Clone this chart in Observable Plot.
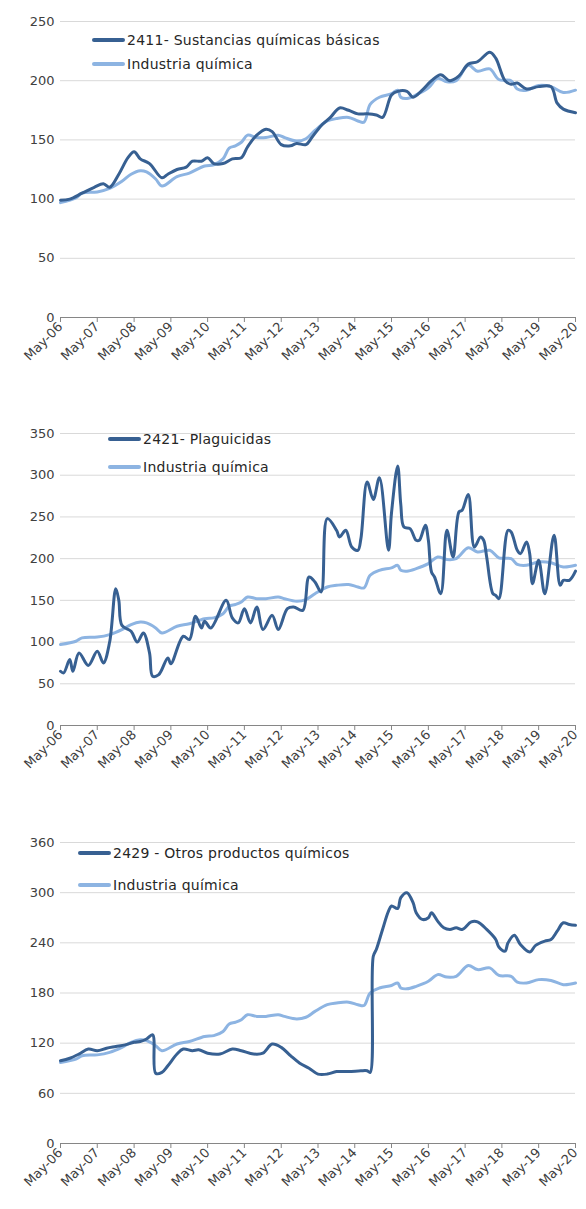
<!DOCTYPE html>
<html><head><meta charset="utf-8">
<script src="https://cdn.jsdelivr.net/npm/d3@7"></script>
<script src="https://cdn.jsdelivr.net/npm/@observablehq/plot@0.6"></script>
<style>
body{margin:0;background:#fff;font-family:"DejaVu Sans",sans-serif;}
.chart{position:relative;width:586px;}
.chart svg{display:block;}
.legend{position:absolute;font-size:14px;letter-spacing:0.25px;color:#262626;display:flex;align-items:center;white-space:nowrap;height:18px;}
.sw{display:inline-block;width:33px;height:4px;border-radius:2px;margin-right:2px;}
</style></head><body><div id="root"></div>
<script>
// Industria química (same reference series in all three panels)
const industria = [
["2006-05",97],["2006-10",101],["2006-12",105],["2007-05",106],["2007-09",109],["2008-01",115],
["2008-04",121],["2008-07",124],["2008-09",123],["2008-12",117],["2009-02",111],["2009-07",119],
["2009-11",122],["2010-04",128],["2010-07",129],["2010-10",134],["2010-12",143],["2011-02",145],
["2011-04",148],["2011-06",154],["2011-09",152],["2011-12",152],["2012-04",154],["2012-06",152],
["2012-10",149],["2013-01",151],["2013-04",158],["2013-08",166],["2013-11",168],["2014-03",169],
["2014-06",166],["2014-08",165],["2014-10",180],["2015-01",186],["2015-05",189],["2015-07",192],
["2015-08",186],["2015-10",185],["2016-01",188],["2016-05",194],["2016-08",202],["2016-11",199],
["2017-02",200],["2017-06",213],["2017-09",208],["2018-01",210],["2018-04",201],["2018-08",200],
["2018-10",193],["2019-01",192],["2019-05",196],["2019-09",195],["2020-01",190],["2020-05",192]
];
// 2411- Sustancias químicas básicas
const sustancias = [
["2006-05",99],["2006-08",100],["2006-12",105],["2007-04",110],["2007-07",113],["2007-09",110],
["2007-12",121],["2008-03",135],["2008-05",140],["2008-07",134],["2008-10",130],["2009-02",118],
["2009-04",121],["2009-07",125],["2009-10",127],["2009-12",132],["2010-03",132],["2010-05",135],
["2010-07",130],["2010-10",130],["2011-01",134],["2011-04",135],["2011-06",144],["2011-09",154],
["2011-12",159],["2012-02",157],["2012-05",146],["2012-08",145],["2012-10",147],["2013-01",146],
["2013-03",152],["2013-06",162],["2013-09",169],["2013-12",177],["2014-03",175],["2014-06",172],
["2014-09",172],["2014-12",171],["2015-02",169],["2015-05",188],["2015-07",191],["2015-10",191],
["2015-12",186],["2016-03",192],["2016-06",200],["2016-09",205],["2016-12",200],["2017-03",204],
["2017-06",214],["2017-09",216],["2018-01",224],["2018-03",219],["2018-06",200],["2018-08",197],
["2018-10",198],["2019-01",193],["2019-05",195],["2019-09",195],["2019-11",181],["2020-01",176],
["2020-05",173]
];
// 2421- Plaguicidas
const plaguicidas = [
["2006-05",65],["2006-06",63],["2006-08",79],["2006-09",65],["2006-11",87],["2007-02",72],
["2007-05",89],["2007-07",75],["2007-09",100],["2007-11",164],["2007-12",150],["2008-01",120],
["2008-04",113],["2008-06",100],["2008-08",111],["2008-10",87],["2008-11",59],["2009-01",61],
["2009-04",81],["2009-05",74],["2009-09",107],["2009-11",103],["2010-01",131],["2010-03",117],
["2010-04",125],["2010-06",117],["2010-11",150],["2011-01",129],["2011-03",123],["2011-05",140],
["2011-07",123],["2011-09",142],["2011-11",115],["2012-02",132],["2012-04",115],["2012-07",140],
["2012-09",142],["2012-12",138],["2013-02",178],["2013-04",172],["2013-06",160],["2013-08",248],
["2013-11",234],["2013-12",226],["2014-02",234],["2014-04",214],["2014-06",210],["2014-07",224],
["2014-09",292],["2014-11",271],["2015-01",297],["2015-04",210],["2015-05",255],["2015-07",311],
["2015-08",265],["2015-09",238],["2015-11",236],["2016-01",222],["2016-02",222],["2016-04",240],
["2016-05",222],["2016-06",184],["2016-07",178],["2016-09",158],["2016-11",234],["2017-01",202],
["2017-03",256],["2017-04",258],["2017-06",277],["2017-08",214],["2017-10",226],["2017-11",222],
["2017-12",202],["2018-02",158],["2018-03",156],["2018-04",152],["2018-07",234],["2018-08",232],
["2018-10",210],["2018-11",206],["2019-01",220],["2019-02",206],["2019-03",170],["2019-05",198],
["2019-07",158],["2019-10",228],["2019-12",168],["2020-01",174],["2020-03",174],["2020-05",185]
];
// 2429 - Otros productos químicos
const otros = [
["2006-05",99],["2006-08",102],["2006-11",107],["2007-02",113],["2007-05",111],["2007-08",114],
["2007-11",116],["2008-02",118],["2008-05",121],["2008-07",122],["2008-09",125],["2008-11",130],
["2008-12",84],["2009-02",85],["2009-04",93],["2009-07",107],["2009-09",113],["2009-12",111],
["2010-02",112],["2010-05",108],["2010-09",107],["2011-01",113],["2011-04",111],["2011-08",107],
["2011-11",108],["2012-02",119],["2012-05",115],["2012-08",105],["2012-11",96],["2013-02",90],
["2013-05",83],["2013-08",83],["2013-11",86],["2014-03",86],["2014-07",87],["2014-09",87],
["2014-10",85],["2014-11",224],["2014-12",232],["2015-02",256],["2015-04",278],["2015-05",284],
["2015-07",281],["2015-08",294],["2015-10",300],["2015-12",288],["2016-01",276],["2016-03",268],
["2016-05",270],["2016-06",276],["2016-08",266],["2016-10",258],["2016-12",256],["2017-02",258],
["2017-04",256],["2017-07",265],["2017-09",265],["2017-12",256],["2018-03",244],["2018-04",235],
["2018-06",230],["2018-07",240],["2018-09",249],["2018-11",238],["2019-02",229],["2019-04",237],
["2019-07",242],["2019-09",244],["2019-11",254],["2020-01",264],["2020-03",262],["2020-05",261]
];

const tickMonths = ["2006-05","2007-05","2008-05","2009-05","2010-05","2011-05","2012-05","2013-05",
  "2014-05","2015-05","2016-05","2017-05","2018-05","2019-05","2020-05"];
const yTicks1 = [0,50,100,150,200,250];
const yTicks2 = [0,50,100,150,200,250,300,350];
const yTicks3 = [0,60,120,180,240,300,360];

const names = ["2411- Sustancias químicas básicas","2421- Plaguicidas","2429 - Otros productos químicos"];
const refName = "Industria química";

const DARK = "#376092", LIGHT = "#8DB4E2";
const parse = d3.utcParse("%Y-%m");
const rows = pairs => pairs.map(([d, v]) => ({date: parse(d), value: v}));
const fmt = d3.utcFormat("%b-%y");

const panels = [
  {name: names[0], data: sustancias, ticks: yTicks1, height: 400, mt: 21, mb: 83, leg: {left: 92, tops: [31, 55]}},
  {name: names[1], data: plaguicidas, ticks: yTicks2, height: 410, mt: 33, mb: 85, leg: {left: 108, tops: [30, 58]}},
  {name: names[2], data: otros, ticks: yTicks3, height: 399, mt: 32, mb: 66, leg: {left: 78, tops: [34, 66]}}
];

const root = document.getElementById("root");
for (const p of panels) {
  const div = document.createElement("div");
  div.className = "chart";
  div.style.height = p.height + "px";
  const tickDates = tickMonths.map(parse);
  const chart = Plot.plot({
    width: 586, height: p.height,
    marginLeft: 60, marginRight: 11, marginTop: p.mt, marginBottom: p.mb,
    style: {fontFamily: "DejaVu Sans, sans-serif", fontSize: "13px", color: "#404040", background: "white"},
    x: {type: "utc", domain: [tickDates[0], tickDates[tickDates.length - 1]]},
    y: {domain: [0, p.ticks[p.ticks.length - 1]]},
    marks: [
      Plot.gridY(p.ticks.filter(t => t > 0), {stroke: "#d9d9d9", strokeOpacity: 1}),
      Plot.axisY(p.ticks, {tickSize: 0, tickPadding: 6, label: null}),
      Plot.ruleY([0], {stroke: "#868686"}),
      Plot.axisX(tickDates, {tickRotate: -45, tickFormat: fmt, tickSize: 5, tickPadding: 2, stroke: "#868686", label: null}),
      Plot.lineY(rows(industria), {x: "date", y: "value", stroke: LIGHT, strokeWidth: 3, curve: "catmull-rom"}),
      Plot.lineY(rows(p.data), {x: "date", y: "value", stroke: DARK, strokeWidth: 3, curve: "catmull-rom"})
    ]
  });
  div.appendChild(chart);
  [[p.name, DARK], [refName, LIGHT]].forEach(([label, color], i) => {
    const lg = document.createElement("div");
    lg.className = "legend";
    lg.style.left = p.leg.left + "px";
    lg.style.top = p.leg.tops[i] + "px";
    const sw = document.createElement("span");
    sw.className = "sw";
    sw.style.background = color;
    lg.appendChild(sw);
    lg.appendChild(document.createTextNode(label));
    div.appendChild(lg);
  });
  root.appendChild(div);
}
</script></body></html>
